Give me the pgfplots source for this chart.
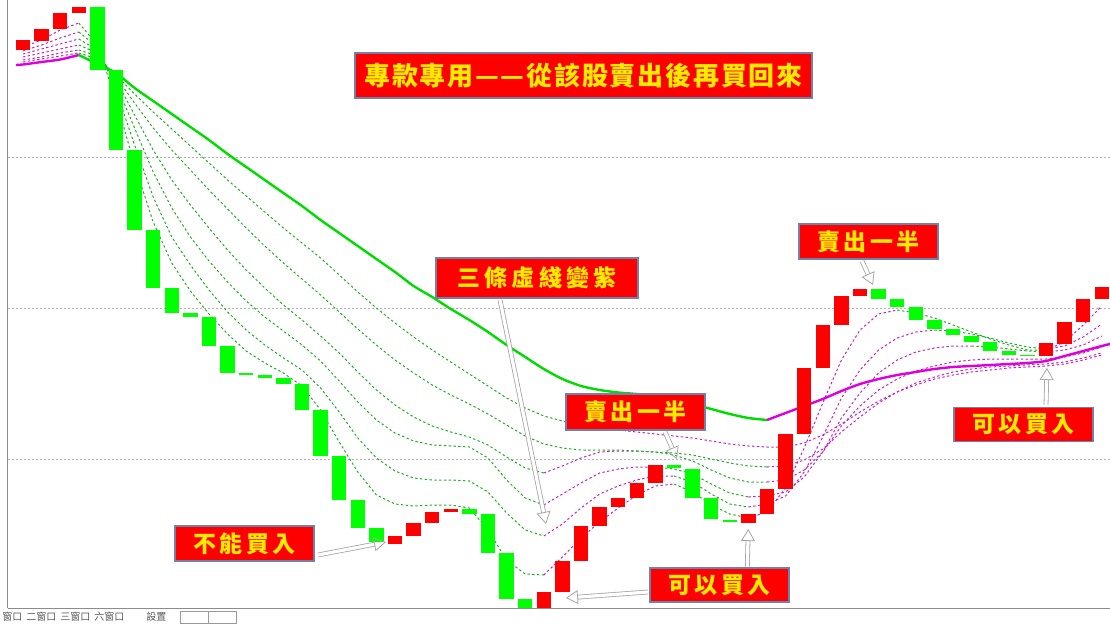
\documentclass[border=0pt]{standalone}
\usepackage{fontspec}
\usepackage{pgfplots}
\usepackage{pgfplotstable}
\pgfplotsset{compat=1.18}
\usetikzlibrary{arrows.meta}
\newfontfamily\cjk{Noto Sans CJK TC}

\definecolor{cred}{RGB}{255,0,0}
\definecolor{cgreen}{RGB}{0,255,0}
\definecolor{thickg}{RGB}{0,220,0}
\definecolor{thickm}{RGB}{220,0,220}
\definecolor{dotg}{RGB}{40,170,40}
\definecolor{dotm}{RGB}{190,40,190}
\definecolor{txty}{RGB}{255,235,0}
\definecolor{boxline}{RGB}{110,130,170}

% candle bodies: index, low edge, high edge of the body
\pgfplotstableread{
i lo hi
0 95.0 96.0
1 95.9 97.1
2 97.1 98.7
3 98.7 99.3
20 45.6 46.4
21 46.4 47.7
22 47.7 48.8
23 48.8 49.1
28 39.2 40.8
29 40.8 43.9
30 43.9 47.4
31 47.4 49.3
32 49.3 50.2
33 50.2 51.7
34 51.7 53.5
39 47.7 48.6
40 48.6 51.1
41 51.1 56.6
42 56.6 63.2
43 63.2 67.5
44 67.5 70.4
45 70.4 71.1
55 64.4 65.7
56 65.6 67.8
57 67.8 70.1
58 70.1 71.3
}\upc

\pgfplotstableread{
i lo hi
4 93.0 99.3
5 85.0 93.0
6 77.0 85.0
7 71.2 77.0
8 68.7 71.2
9 68.3 68.7
10 65.4 68.3
11 62.7 65.4
12 62.5 62.7
13 62.2 62.5
14 61.6 62.2
15 59.0 61.6
16 54.4 59.0
17 50.0 54.4
18 47.2 50.0
19 45.8 47.2
24 48.6 49.1
25 44.7 48.6
26 40.1 44.7
27 39.2 40.1
35 53.2 53.5
36 50.2 53.1
37 48.1 50.2
38 47.8 48.0
46 70.1 71.1
47 69.3 70.1
48 68.0 69.3
49 67.1 68.0
50 66.5 67.1
51 65.8 66.4
52 64.9 65.8
53 64.5 64.9
54 64.4 64.5
}\downc

% the six dotted averages
\pgfplotstableread{
i d1 d2 d3 d4 d5 d6
0 95.3 94.9 94.6 94.3 94.0 93.8
1 96.0 95.5 95.1 94.7 94.3 94.1
2 97.0 96.2 95.6 95.1 94.7 94.4
3 97.7 96.8 96.1 95.5 95.0 94.7
4 95.5 95.3 95.0 94.7 94.4 94.1
5 90.0 91.0 91.6 92.0 92.3 92.5
6 83.5 85.5 87.2 88.5 89.7 90.6
7 77.8 80.3 82.8 85.0 87.2 88.8
8 73.7 76.3 79.2 82.0 85.0 87.1
9 70.9 73.5 76.3 79.5 83.0 85.4
10 68.6 71.0 73.9 77.2 81.0 83.7
11 66.6 68.8 71.8 75.0 79.1 82.0
12 64.9 67.0 69.9 73.0 77.2 80.4
13 63.7 65.5 68.3 71.2 75.4 78.8
14 62.7 64.2 66.9 69.5 73.7 77.2
15 61.4 63.0 65.5 68.0 72.1 75.7
16 59.0 61.2 63.9 66.4 70.5 74.2
17 55.8 58.8 61.9 64.7 68.8 72.5
18 52.8 56.2 59.8 62.8 67.1 70.8
19 50.5 54.2 58.0 61.0 65.5 69.2
20 49.6 52.9 56.7 59.5 64.0 67.7
21 49.4 52.2 55.9 58.3 62.7 66.3
22 49.5 52.0 55.5 57.4 61.5 65.0
23 49.5 52.0 55.4 56.8 60.5 63.8
24 49.2 51.9 55.3 56.3 59.6 62.6
25 47.0 50.8 54.2 55.5 58.6 61.4
26 44.0 48.7 52.0 54.3 57.5 60.2
27 42.6 47.0 50.2 53.2 56.4 59.2
28 42.5 46.4 49.5 52.7 55.6 58.4
29 44.3 47.6 50.6 53.4 55.2 57.9
30 46.2 49.2 51.7 54.2 55.0 57.5
31 47.8 50.6 52.7 54.8 55.0 57.2
32 49.2 51.4 53.1 54.9 55.0 57.0
33 50.5 52.0 53.3 54.9 54.9 56.8
34 51.4 52.4 53.3 54.8 54.8 56.6
35 51.6 52.4 53.1 54.5 54.7 56.4
36 50.8 51.8 52.6 53.9 54.5 56.2
37 49.5 50.6 51.6 53.0 54.1 55.9
38 48.6 49.6 50.7 52.2 53.7 55.6
39 48.2 49.3 50.3 51.8 53.4 55.4
40 48.8 49.6 50.4 51.8 53.3 55.3
41 51.2 50.4 50.8 52.0 53.4 55.3
42 55.2 52.8 52.3 53.0 54.0 55.7
43 59.7 56.3 54.8 54.8 55.1 56.5
44 64.0 60.2 58.2 57.4 56.8 57.6
45 67.0 63.0 60.7 59.4 58.3 58.8
46 68.6 65.0 62.7 61.0 59.7 59.9
47 69.0 66.2 64.0 62.1 60.8 60.8
48 68.7 66.8 64.8 62.9 61.7 61.5
49 68.2 67.0 65.2 63.4 62.3 62.1
50 67.5 66.9 65.4 63.8 62.8 62.5
51 66.8 66.6 65.4 64.0 63.1 62.8
52 66.1 66.2 65.3 64.1 63.3 63.0
53 65.5 65.7 65.1 64.1 63.4 63.2
54 65.0 65.3 64.9 64.1 63.5 63.3
55 65.0 65.1 64.8 64.1 63.6 63.4
56 65.8 65.4 65.0 64.3 63.8 63.6
57 67.5 66.3 65.5 64.7 64.2 64.0
58 69.4 67.6 66.4 65.3 64.7 64.5
}\ma

\newcommand\seg[4]{\addplot[#1, line width=0.5pt, dash pattern=on 1.2pt off 1.2pt,
  restrict x to domain=#2:#3, forget plot] table[x=i, y=#4] {\ma};}
\newcommand\g{\hspace{1.8pt}}
\newcommand\tg{\hspace{0.9pt}}

\begin{document}
\begin{tikzpicture}
\useasboundingbox (0,0) rectangle (555pt,311.5pt);
\begin{axis}[
  at={(4pt,7.5pt)}, anchor=south west,
  scale only axis, width=551pt, height=304pt,
  xmin=-0.806, xmax=58.44, ymin=39.2, ymax=100,
  axis x line*=bottom, axis y line*=left,
  axis line style={draw=black!45, line width=0.5pt, -},
  xtick=\empty, ytick={54.1,69.2,84.3}, yticklabels={},
  major tick length=0pt,
  ymajorgrids, grid style={dash pattern=on 1pt off 1pt, black!30, line width=0.5pt},
]
% dotted averages, magenta while rising, green while falling
\seg{dotm}{0}{3}{d1}\seg{dotg}{3}{28}{d1}\seg{dotm}{28}{35}{d1}\seg{dotg}{35}{39}{d1}
\seg{dotm}{39}{47}{d1}\seg{dotg}{47}{55}{d1}\seg{dotm}{55}{58}{d1}
\seg{dotm}{0}{3}{d2}\seg{dotg}{3}{28}{d2}\seg{dotm}{28}{35}{d2}\seg{dotg}{35}{39}{d2}
\seg{dotm}{39}{49}{d2}\seg{dotg}{49}{55}{d2}\seg{dotm}{55}{58}{d2}
\seg{dotm}{0}{3}{d3}\seg{dotg}{3}{28}{d3}\seg{dotm}{28}{34}{d3}\seg{dotg}{34}{39}{d3}
\seg{dotm}{39}{51}{d3}\seg{dotg}{51}{55}{d3}\seg{dotm}{55}{58}{d3}
\seg{dotm}{0}{3}{d4}\seg{dotg}{3}{28}{d4}\seg{dotm}{28}{33}{d4}\seg{dotg}{33}{40}{d4}
\seg{dotm}{40}{58}{d4}
\seg{dotm}{0}{3}{d5}\seg{dotg}{3}{40}{d5}\seg{dotm}{40}{58}{d5}
\seg{dotm}{0}{3}{d6}\seg{dotg}{3}{31}{d6}\seg{dotm}{31}{58}{d6}

% slow average, thick
\addplot[thickm, line width=1.2pt, smooth, tension=0.4] coordinates {(-0.38,93.5)(0,93.55)(1,93.8)(2,94.05)(3,94.5)};
\addplot[thickg, line width=1.2pt, smooth, tension=0.4] coordinates {(3,94.5)(4,93.6)(5,92.7)(6,91.2)(7,89.9)(8,88.6)(9,87.3)(10,86.0)
  (11,84.6)(12,83.3)(13,82.0)(14,80.7)(15,79.4)(16,78.0)(17,76.7)(18,75.4)(19,74.1)(20,72.8)
  (21,71.4)(22,70.3)(23,69.1)(24,68.0)(25,66.8)(26,65.5)(27,64.3)(28,63.1)(29,62.1)(30,61.4)
  (31,61.0)(32,60.75)(33,60.6)(34,60.4)(35,60.0)(36,59.6)(37,59.1)(38,58.6)(39,58.2)(40,58.0)};
\addplot[thickm, line width=1.2pt, smooth, tension=0.4] coordinates {(40,58.0)(41,58.7)(42,59.4)(43,60.1)(44,60.9)(45,61.6)
  (46,62.1)(47,62.5)(48,62.8)(49,63.1)(50,63.3)(51,63.4)(52,63.5)(53,63.6)(54,63.7)(55,63.9)
  (56,64.4)(57,64.9)(58,65.4)(58.44,65.6)};

% candle bodies
\addplot[draw=none, mark=none, error bars/.cd, y dir=plus, y explicit, error mark=none,
  error bar style={line width=7.2pt, draw=cred}]
  table[x=i, y=lo, y error expr=\thisrow{hi}-\thisrow{lo}] {\upc};
\addplot[draw=none, mark=none, error bars/.cd, y dir=plus, y explicit, error mark=none,
  error bar style={line width=7.2pt, draw=cgreen}]
  table[x=i, y=lo, y error expr=\thisrow{hi}-\thisrow{lo}] {\downc};
\end{axis}

% notes, in pixel positions from the top left corner
\begin{scope}[yshift=311.5pt, x=0.5pt, y=-0.5pt]
\tikzset{
  box/.style={fill=red, draw=boxline, line width=0.6pt, inner sep=0pt, text=txty,
    font=\cjk\bfseries\fontsize{11.5}{12}\selectfont},
  harrow/.style={draw=black!35, line width=0.4pt, double=white, double distance=1.6pt,
    -{Triangle[open, length=6pt, width=7pt]}}
}
\draw[harrow] (318,555) -- (386,542);
\draw[harrow] (500,300) -- (546,524);
\draw[harrow] (665,432) -- (677,459);
\draw[harrow] (648,592) -- (566,598);
\draw[harrow] (747.3,567) -- (748.3,529);
\draw[harrow] (862,261) -- (873,285);
\draw[harrow] (1046,405) -- (1047,368);

\node[box, minimum width=228.5pt, minimum height=22.5pt, font=\cjk\bfseries\fontsize{13}{14}\selectfont]
  at (583.5,75.5) {專\tg 款\tg 專\tg 用\tg —\tg —\tg 從\tg 該\tg 股\tg 賣\tg 出\tg 後\tg 再\tg 買\tg 回\tg 來};
\node[box, minimum width=101pt, minimum height=20pt] at (537,278)
  {三\hspace{2.2pt}條\hspace{2.2pt}虛\hspace{2.2pt}綫\hspace{2.2pt}變\hspace{2.2pt}紫};
\node[box, minimum width=69.5pt, minimum height=18pt] at (635.5,412) {賣\g 出\g 一\g 半};
\node[box, minimum width=69.5pt, minimum height=17.5pt] at (244.5,543.5) {不\g 能\g 買\g 入};
\node[box, minimum width=69.5pt, minimum height=17pt] at (719.5,585) {可\g 以\g 買\g 入};
\node[box, minimum width=69.5pt, minimum height=17.5pt] at (868.5,241.5) {賣\g 出\g 一\g 半};
\node[box, minimum width=69.5pt, minimum height=17pt] at (1023.5,424.5) {可\g 以\g 買\g 入};

% window tabs under the chart
\node[anchor=west, inner sep=0pt, text=black!65, font=\cjk\fontsize{5}{5}\selectfont]
  at (2,617) {窗口\hspace{2pt}二窗口\hspace{2pt}三窗口\hspace{2pt}六窗口};
\node[anchor=west, inner sep=0pt, text=black!65, font=\cjk\fontsize{5}{5}\selectfont]
  at (146,617) {設置};
\draw[black!40, line width=0.3pt] (180,611) rectangle (208,623) (208,611) rectangle (236,623);
\end{scope}
\end{tikzpicture}
\end{document}
